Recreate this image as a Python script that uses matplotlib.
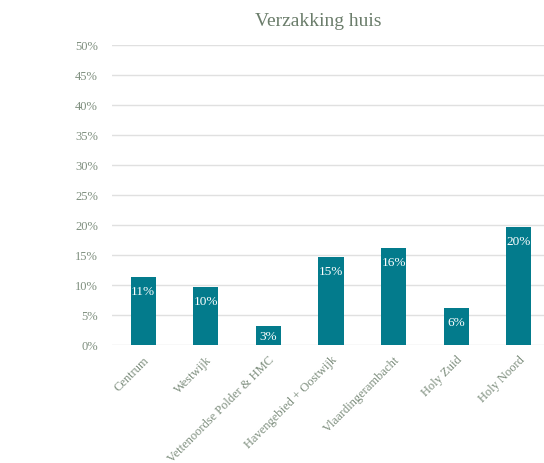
import numpy as np
import matplotlib
matplotlib.use("Agg")
import matplotlib.pyplot as plt

categories = ["Centrum", "Westwijk", "Vettenoordse Polder & HMC",
              "Havengebied + Oostwijk", "Vlaardingerambacht", "Holy Zuid", "Holy Noord"]
values = [11.3, 9.7, 3.1, 14.6, 16.1, 6.1, 19.6]
yticks = [0, 5, 10, 15, 20, 25, 30, 35, 40, 45, 50]

bar_color = "#037B8C"
text_color = "#7F8F7F"
title_color = "#6B7D6B"
grid_color = "#E0E0E0"

plt.rcParams['font.family'] = ['Liberation Serif', 'DejaVu Serif']

fig = plt.figure(figsize=(5.44, 4.64), dpi=100)
ax = fig.add_axes([112 / 544, 118 / 464, 438 / 544, 300 / 464])

x = np.arange(len(categories))
bars = ax.bar(x, values, width=0.4, color=bar_color, zorder=3)

# labels sit inside the top of the bar, but stay in the bar when it's short
for xi, v in zip(x, values):
    y_lab = max(v - 2.3, v / 2)
    ax.text(xi, y_lab, f"{v:.0f}%", ha="center", va="center",
            color="white", fontsize=9.5, zorder=4)

ax.set_xlim(-0.5, len(categories) - 0.5)
ax.set_ylim(0, 50)
ax.set_yticks(yticks)
ax.set_yticklabels([f"{t}%" for t in yticks])
ax.yaxis.grid(True, color=grid_color, linewidth=1, zorder=0)
ax.set_axisbelow(True)
for s in ax.spines.values():
    s.set_visible(False)
ax.tick_params(axis="both", length=0, colors=text_color, labelsize=9)
ax.tick_params(axis="y", pad=10)
ax.tick_params(axis="x", pad=6)
ax.set_xticks(x)
ax.set_xticklabels(categories, rotation=45, ha="right", rotation_mode="anchor")

fig.text(318 / 544, 1 - 21 / 464, "Verzakking huis", ha="center", va="center",
         color=title_color, fontsize=14)

plt.savefig("out.png", dpi=100)
